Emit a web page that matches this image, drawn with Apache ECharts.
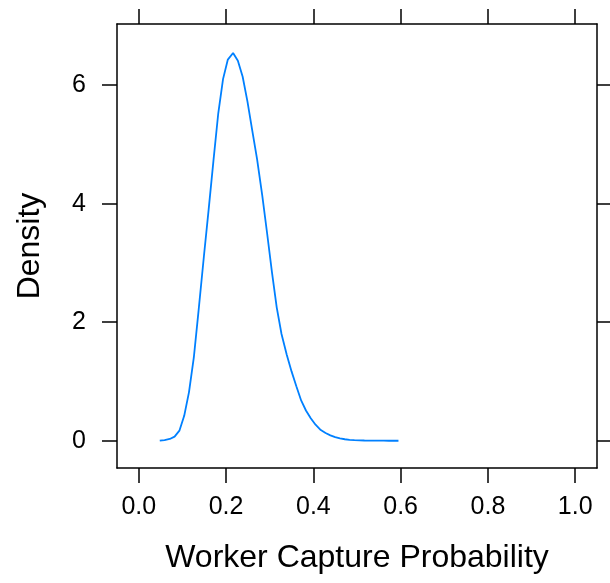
<!DOCTYPE html>
<html>
<head>
<meta charset="utf-8">
<script src="https://cdn.jsdelivr.net/npm/echarts@6/dist/echarts.min.js"></script>
<style>
  html, body { margin: 0; padding: 0; background: #fff; }
  #chart { width: 610px; height: 583px; }
</style>
</head>
<body>
<div id="chart"></div>
<script>
// Kernel density estimate of worker capture probability
const captureProb = [
  0.048, 0.059, 0.071, 0.082, 0.093, 0.104, 0.115, 0.126, 0.137, 0.149,
  0.160, 0.171, 0.182, 0.193, 0.204, 0.216, 0.227, 0.238, 0.249, 0.260,
  0.271, 0.283, 0.294, 0.305, 0.316, 0.327, 0.339, 0.350, 0.361, 0.372,
  0.383, 0.394, 0.405, 0.417, 0.428, 0.439, 0.450, 0.461, 0.472, 0.483,
  0.494, 0.506, 0.517, 0.528, 0.539, 0.550, 0.561, 0.573, 0.584, 0.595
];
const density = [
  0.00, 0.01, 0.03, 0.07, 0.17, 0.42, 0.82, 1.40, 2.20, 3.10,
  3.90, 4.72, 5.52, 6.10, 6.43, 6.54, 6.41, 6.14, 5.72, 5.23,
  4.75, 4.13, 3.50, 2.85, 2.25, 1.80, 1.45, 1.17, 0.92, 0.68,
  0.51, 0.38, 0.27, 0.18, 0.13, 0.09, 0.06, 0.04, 0.025, 0.015,
  0.01, 0.006, 0.004, 0.003, 0.002, 0.001, 0.001, 0.000, 0.000, 0.000
];
const xTicks = [0.0, 0.2, 0.4, 0.6, 0.8, 1.0];
const yTicks = [0, 2, 4, 6];
const xTitle = 'Worker Capture Probability';
const yTitle = 'Density';

const FONT = '"Liberation Sans", Arial, Helvetica, sans-serif';
const lineStyle = { color: '#000', width: 1.5 };

const points = captureProb.map((x, i) => [x, density[i]]);

const xRange = { min: -0.05, max: 1.05 };
const yRange = { min: -0.46, max: 7.03 };

function xAxisDef(pos, withLabels) {
  return {
    type: 'value', position: pos, min: xRange.min, max: xRange.max,
    splitLine: { show: false },
    axisLine: { show: true, onZero: false, lineStyle },
    axisTick: { show: true, inside: false, length: 15, lineStyle, customValues: xTicks },
    axisLabel: {
      show: withLabels, customValues: xTicks, margin: 27,
      fontSize: 25, color: '#000', fontFamily: FONT,
      formatter: v => v.toFixed(1)
    },
    name: withLabels ? xTitle : '', nameLocation: 'middle', nameGap: 74,
    nameTextStyle: { fontSize: 32, color: '#000', fontFamily: FONT }
  };
}
function yAxisDef(pos, withLabels) {
  return {
    type: 'value', position: pos, min: yRange.min, max: yRange.max,
    splitLine: { show: false },
    axisLine: { show: true, onZero: false, lineStyle },
    axisTick: { show: true, inside: false, length: 15, lineStyle, customValues: yTicks },
    axisLabel: {
      show: withLabels, customValues: yTicks, margin: 31,
      fontSize: 25, color: '#000', fontFamily: FONT,
      formatter: v => String(v)
    },
    name: withLabels ? yTitle : '', nameLocation: 'middle', nameGap: 71,
    nameTextStyle: { fontSize: 32, color: '#000', fontFamily: FONT }
  };
}

const chart = echarts.init(document.getElementById('chart'), null, { renderer: 'canvas' });
chart.setOption({
  animation: false,
  backgroundColor: '#fff',
  grid: { left: 117, right: 13, top: 24, bottom: 115, containLabel: false },
  xAxis: [xAxisDef('bottom', true), xAxisDef('top', false)],
  yAxis: [yAxisDef('left', true), yAxisDef('right', false)],
  series: [{
    type: 'line',
    xAxisIndex: 0, yAxisIndex: 0,
    data: points,
    showSymbol: false,
    smooth: false,
    lineStyle: { color: '#0080ff', width: 1.8 },
    clip: true
  }]
});
</script>
</body>
</html>
